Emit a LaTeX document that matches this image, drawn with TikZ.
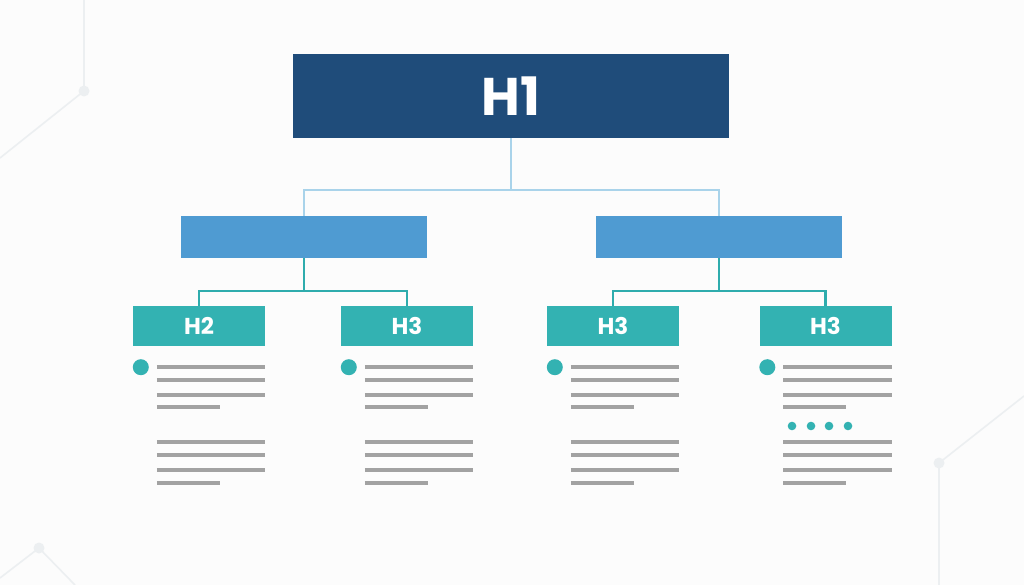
\documentclass[tikz,border=0pt]{standalone}
\usepackage{fontspec}
\setmainfont{Poppins}[UprightFont=* Bold,BoldFont=* Bold]
\usetikzlibrary{calc}
\definecolor{navy}{HTML}{1F4C7A}
\definecolor{midblue}{HTML}{4F9BD2}
\definecolor{tealbox}{HTML}{33B2B2}
\definecolor{lightconn}{HTML}{A9D3EA}
\definecolor{tealline}{HTML}{2EACAD}
\definecolor{textgray}{HTML}{A2A2A2}
\definecolor{bgcol}{HTML}{FCFCFC}
\definecolor{netcol}{HTML}{ECEFF1}
\tikzset{
  h1box/.style={fill=navy,minimum width=436pt,minimum height=84pt,inner sep=0pt,text=white,font=\fontsize{53}{53}\selectfont},
  h2box/.style={fill=midblue,minimum width=246pt,minimum height=42pt,inner sep=0pt},
  hbox/.style={fill=tealbox,minimum width=132pt,minimum height=40pt,inner sep=0pt,text=white,font=\fontsize{23}{23}\selectfont},
  connA/.style={draw=lightconn,line width=2pt},
  connB/.style={draw=tealline,line width=2.5pt},
  gline/.style={draw=textgray,line width=4.5pt},
  bullet/.style={fill=tealbox},
  net/.style={draw=netcol,line width=1.6pt},
  netdot/.style={fill=netcol},
}
\begin{document}
\begin{tikzpicture}[x=1pt,y=-1pt]
\fill[bgcol] (0,0) rectangle (1024,585);
\useasboundingbox (0,0) rectangle (1024,585);
% faint background network
\draw[net] (84,0) -- (84,91) -- (0,158);
\fill[netdot] (84,91) circle (5.5);
\draw[net] (0,578) -- (39,548) -- (75,585);
\fill[netdot] (39,548) circle (5.5);
\draw[net] (1024,396) -- (939,463) -- (939,585);
\fill[netdot] (939,463) circle (5.5);
% nodes
\node[h1box] (h1) at (511,96) {H1};
\node[h2box] (l2a) at (304,237) {};
\node[h2box] (l2b) at (719,237) {};
\node[hbox] (ha) at (199,326) {H2};
\node[hbox] (hb) at (407,326) {H3};
\node[hbox] (hc) at (613,326) {H3};
\node[hbox] (hd) at (825.5,326) {H3};
% connectors
\coordinate (j1) at ($(h1.south)+(0,52)$);
\draw[connA] (h1.south) -- (j1);
\draw[connA] (l2a.north) |- (j1) -| (l2b.north);
\coordinate (ja) at ($(l2a.south)+(0,33)$);
\coordinate (jb) at ($(l2b.south)+(0,33)$);
\draw[connB] (l2a.south) -- (ja);
\draw[connB] (ha.north) |- (ja) -| (hb.north);
\draw[connB] (l2b.south) -- (jb);
\draw[connB] (hc.north) |- (jb) -| (hd.north);
% text placeholders
\foreach \b in {ha,hb,hc,hd}{
  \path (\b.south west) coordinate (bl) (\b.south east) coordinate (br);
  \fill[bullet] ($(bl)+(8,21)$) circle (8);
  \foreach \yy/\s in {367/0,380/0,395/0,407/1,442/0,455/0,470/0,483/1}{
    \ifnum\s=1
      \draw[gline] ($(bl|-0,\yy)+(24,0)$) -- ($(bl|-0,\yy)+(87,0)$);
    \else
      \draw[gline] ($(bl|-0,\yy)+(24,0)$) -- (br|-0,\yy);
    \fi
  }
}
\foreach \xx in {792,811,829,848}{
  \fill[bullet] (\xx,426) circle (4.3);
}
\end{tikzpicture}
\end{document}
